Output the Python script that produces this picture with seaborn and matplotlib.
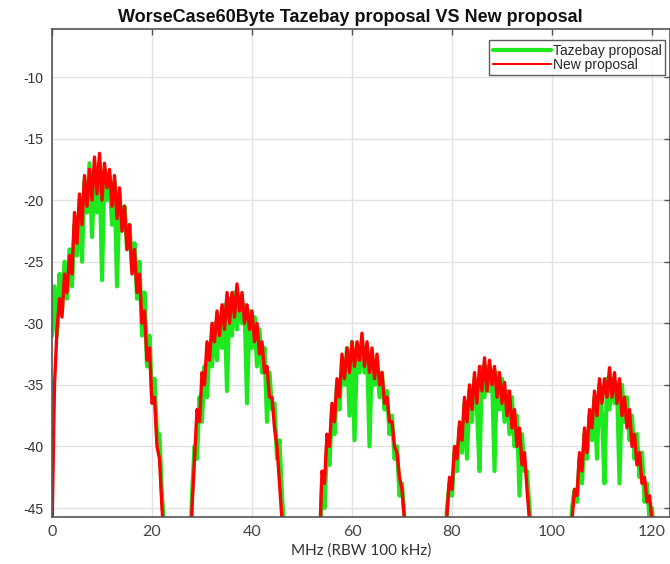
import numpy as np
import pandas as pd
import matplotlib
matplotlib.use("Agg")
import matplotlib.pyplot as plt
import seaborn as sns

# ---------------- data (dB, 0.5 MHz sampling) ----------------
SERIES = ["Tazebay proposal", "New proposal"]
STEP_MHZ = 0.5
LOBE_START_MHZ = [0, 27, 53, 78, 103]

tazebay_lobe1 = [-31, -27, -31, -26, -29, -25, -28, -24, -27, -22, -24.5, -20, -25, -18.5, -21, -17,
                 -23, -17.5, -21, -17, -26.5, -17.5, -20, -18, -22, -18.5, -27, -19.5, -22.5, -20.5,
                 -24, -22, -25.5, -23.5, -28, -25, -31, -27.5, -33.5, -31, -36, -34.5, -39, -39, -44,
                 -47, -60]
new_lobe1 = [-47, -35, -30.5, -28, -29.5, -26, -27.5, -24.5, -26, -21, -23.5, -19.5, -22, -18, -20.5, -17.5,
             -20, -16.5, -19.5, -16.2, -20, -17, -19, -17.5, -20.5, -18, -21.5, -19, -22.5, -20.5,
             -24, -22, -26, -24, -27.5, -26, -30, -29, -33, -32, -36.5, -36, -40, -41, -45,
             -48, -60]

tazebay_lobe2 = [-60, -50, -44, -40, -41, -36, -38, -33.5, -36, -32, -33.5, -30, -33, -29.5, -32, -28.5,
                 -35.5, -28, -31, -27.5, -30.5, -28, -30, -28.5, -36.5, -29, -32, -29.5, -33.5, -30.5,
                 -34, -32, -38, -34, -37, -36.5, -41, -39.5, -44, -47, -60]
new_lobe2 = [-60, -52, -45, -41, -37, -38, -34, -35, -31.5, -33, -30, -31.5, -29, -31, -28.5, -30.5,
             -27.5, -30, -27.5, -29.5, -26.8, -29, -27.5, -30, -28.5, -30.5, -29, -31.5, -30, -32.5,
             -31.5, -34, -33.5, -36, -36, -38.5, -40, -43, -46, -60, -60]

tazebay_lobe3 = [-60, -49, -43, -45, -40, -41.5, -37, -39, -35, -37, -33, -35, -32, -37.5, -31.5, -39.5,
                 -32, -34, -31.5, -34, -32, -40, -32.5, -35, -33, -36, -34, -37, -35.5, -39,
                 -37.5, -41, -40, -44, -43, -46, -48, -60, -60]
new_lobe3 = [-60, -48, -42, -43, -39, -40, -36.5, -38, -34.5, -36, -32.5, -34.5, -32, -34, -31.5, -33.5,
             -31.5, -33, -30.8, -33.5, -31.5, -34, -32, -34.5, -32.5, -35, -34, -36.5, -36, -38,
             -38, -40, -40.5, -42.5, -43.5, -46, -48, -60, -60]

tazebay_lobe4 = [-60, -50, -45, -43, -44, -40.5, -42, -38.5, -40.5, -36.5, -41, -35.5, -38, -34.5, -37, -42,
                 -33.5, -36, -33.5, -35.5, -34, -42, -34, -37, -34.5, -38, -35.5, -39, -36, -40,
                 -37.5, -44, -39, -42, -42, -45, -48, -60, -60]
new_lobe4 = [-60, -52, -45.5, -42.5, -43.5, -40, -41, -38, -39.5, -36, -38, -35, -37, -34, -36.5, -33.5,
             -35.5, -32.8, -35.5, -33, -35, -33.5, -36, -34, -36.5, -34.8, -37.5, -35.5, -38.5, -37,
             -40, -38.5, -41.5, -40.5, -43.5, -46, -60, -60, -60]

tazebay_lobe5 = [-60, -50, -45, -43.5, -44.5, -41, -43, -39, -41, -37.5, -39.5, -36, -41, -35, -37.5, -43,
                 -34.5, -37, -34.5, -36.5, -35, -43, -35, -38, -36, -39.5, -37.5, -41, -39, -42.5,
                 -40.5, -44.5, -43, -46, -45, -48, -60, -60, -60, -60, -60, -60]
new_lobe5 = [-60, -52, -46, -43.5, -44, -40.5, -42, -38.5, -40.5, -37, -38.5, -35.5, -37.5, -34.5, -36.5, -34.5,
             -36, -33.6, -36, -34, -36.5, -34.5, -37.5, -36, -38.5, -37, -40, -39, -41.5, -40.5,
             -43, -42.5, -44.5, -44, -46, -48, -60, -60, -60, -60, -60, -60]

TAZEBAY_LOBES = [tazebay_lobe1, tazebay_lobe2, tazebay_lobe3, tazebay_lobe4, tazebay_lobe5]
NEW_LOBES = [new_lobe1, new_lobe2, new_lobe3, new_lobe4, new_lobe5]

X_TICKS = [0, 20, 40, 60, 80, 100, 120]
Y_TICKS = [-10, -15, -20, -25, -30, -35, -40, -45]


def build_frame(lobes, name):
    rows = []
    for start, vals in zip(LOBE_START_MHZ, lobes):
        for i, v in enumerate(vals):
            rows.append((start + STEP_MHZ * i, v, name))
    return pd.DataFrame(rows, columns=["freq", "level", "series"])


df_taz = build_frame(TAZEBAY_LOBES, SERIES[0])
df_new = build_frame(NEW_LOBES, SERIES[1])

# ---------------- style ----------------
sns.set_style("white")
plt.rcParams["axes.unicode_minus"] = False
plt.rcParams["font.family"] = ["Liberation Sans", "DejaVu Sans"]

fig = plt.figure(figsize=(6.7, 5.64), dpi=100)
ax = fig.add_axes([52 / 670, 1 - 517 / 564, (670 - 52) / 670, (517 - 29) / 564])

sns.lineplot(data=df_taz, x="freq", y="level", color="#1ee81e", linewidth=3.0,
             estimator=None, sort=False, ax=ax, label=SERIES[0])
sns.lineplot(data=df_new, x="freq", y="level", color="#ff0000", linewidth=2.4,
             estimator=None, sort=False, ax=ax, label=SERIES[1])

ax.set_xlim(0, 123.6)
ax.set_ylim(-45.73, -6.1)
ax.set_xticks(X_TICKS)
ax.set_yticks(Y_TICKS)
ax.set_xticklabels([str(t) for t in X_TICKS], fontfamily="Lato", fontsize=11.5, color="#444444")
ax.set_yticklabels([str(t) for t in Y_TICKS], fontsize=10, color="#333333")
ax.grid(True, color="#e2e2e2", linewidth=1.0)
ax.set_axisbelow(True)
ax.tick_params(direction="in", length=4, width=1, color="#555555", top=True, right=True, pad=6)
for s in ax.spines.values():
    s.set_color("#555555")
    s.set_linewidth(1.2)

ax.set_xlabel("MHz (RBW 100 kHz)", fontfamily="Lato", fontsize=11, color="#333333", labelpad=3)
ax.set_ylabel("")
ax.set_title("WorseCase60Byte Tazebay proposal VS New proposal", fontsize=13,
             fontweight="bold", color="#111111", pad=5, x=(350 - 52) / 618)

leg = ax.legend(loc="upper right", bbox_to_anchor=(0.9985, 0.985), fontsize=10, frameon=True,
                fancybox=False, handlelength=4.2, handletextpad=0.1, borderpad=0.25,
                labelspacing=0.0, borderaxespad=0.3)
leg.get_frame().set_edgecolor("#333333")
leg.get_frame().set_linewidth(1.0)
leg.get_lines()[0].set_linewidth(3)
leg.get_lines()[1].set_linewidth(1.5)

fig.savefig("out.png", dpi=100)
